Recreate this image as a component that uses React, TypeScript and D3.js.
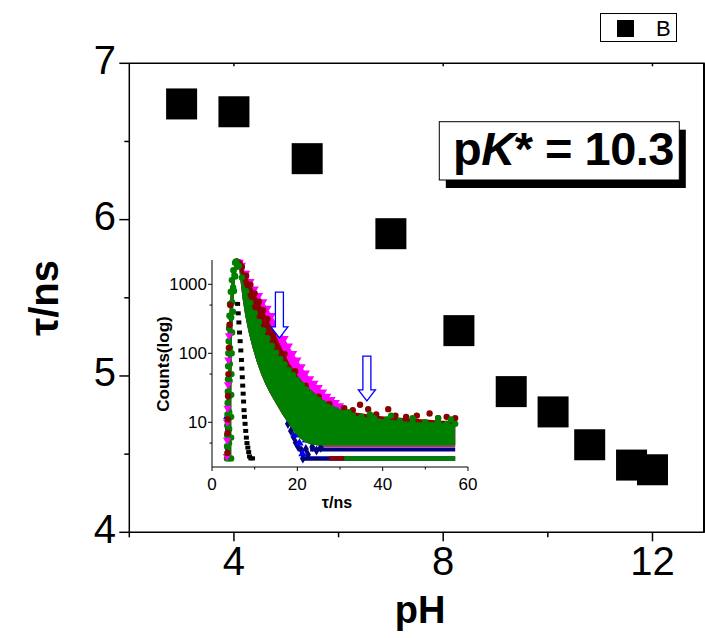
import React from 'react';
import * as d3 from 'd3';

const FONT = '"Liberation Sans", Arial, Helvetica, sans-serif';

// ---------- main plot data ----------
const pHValues = [3.0, 4.0, 5.4, 7.0, 8.3, 9.3, 10.1, 10.8, 11.6, 12.0];
const tauValues = [6.74, 6.69, 6.39, 5.91, 5.29, 4.9, 4.77, 4.56, 4.43, 4.4];
const xMajor = [4, 8, 12];
const xMinor = [2, 6, 10];
const yMajor = [4, 5, 6, 7];
const yMinor = [4.5, 5.5, 6.5];
const legendLabel = 'B';

// ---------- inset data (t in ns, counts) ----------
const insetXMajor = [0, 20, 40, 60];
const insetXMinor = [10, 30, 50];
const insetYMajor = [10, 100, 1000];
const insetYMinor = [5, 50, 500];

const riseLeft: number[][] = [[3.5, 3], [3.52, 4.5], [3.55, 6.5], [3.58, 9], [3.62, 13], [3.66, 19], [3.7, 28], [3.74, 42], [3.78, 65], [3.83, 100], [3.9, 150], [3.98, 230], [4.08, 350], [4.22, 520], [4.4, 780], [4.65, 1150], [5.0, 1600], [5.4, 2050]];
const riseRight: number[][] = [[4.5, 3], [4.5, 6], [4.5, 12], [4.52, 25], [4.56, 50], [4.62, 100], [4.72, 200], [4.9, 400], [5.15, 800], [5.45, 1300], [5.9, 1800]];
const riseMid: number[][] = [[4.0, 3], [4.0, 5], [4.02, 8], [4.05, 14], [4.08, 24], [4.12, 40], [4.18, 70], [4.25, 120], [4.35, 200], [4.5, 330], [4.7, 550], [4.95, 900], [5.25, 1350]];
const magentaTop: number[][] = [[5.9, 2150], [6.5, 2100], [7, 1900], [8, 1450], [9, 1100], [10, 860], [11, 690], [12, 560], [13, 450], [14, 355], [15, 275], [16, 212], [17, 165], [18, 128], [19, 100], [20, 80], [21, 64], [22, 52], [23, 43], [24, 37], [25, 32], [26, 27.5], [27, 24], [28, 21.5], [29, 19.5], [30, 17.5]];
const magentaFloor: number[][] = [[31, 15], [33, 13], [35, 12], [38, 11.5], [41, 11], [44, 10.5], [47, 10], [50, 10], [53, 10], [55, 9.5], [57, 9.5]];
const maroonTop: number[][] = [[5.8, 2150], [6.5, 2000], [7, 1780], [8, 1330], [9, 990], [10, 740], [11, 560], [12, 420], [13, 315], [14, 240], [15, 180], [16, 132], [17, 98], [18, 74], [19, 59], [20, 48], [21, 40], [22, 34], [23, 30], [24, 26.5], [25, 23.5], [26, 21], [27, 19], [28, 17.5], [29, 16.5], [30, 15.5]];
const maroonEdgeMarks: number[][] = [[5.8, 2150], [6.5, 2000], [7, 1780], [8, 1330], [9, 990], [10, 740], [11, 560], [12, 420], [13, 315], [14.5, 200], [17, 98], [19.5, 55], [22, 34], [25, 23.5], [27.5, 18.5]];
const maroonFloor: number[][] = [[31, 15], [33, 14], [35, 13.5], [38, 12.5], [41, 12], [45, 11.5], [50, 11], [54, 10.5], [57, 10.5]];
const greenTop: number[][] = [[5.7, 2150], [6.3, 1850], [7, 1250], [8, 800], [9, 540], [10, 380], [11, 285], [12, 215], [13, 165], [14, 128], [15, 102], [16, 83], [17, 69], [18, 57], [19, 48], [20, 41], [21, 35], [22, 30], [23, 26.5], [24, 23.5], [25, 21], [26, 19], [27, 17], [28, 16], [29, 15], [30, 14]];
const greenFloor: number[][] = [[31, 13.5], [33, 12.5], [35, 12], [38, 11.5], [41, 11], [44, 10.5], [47, 10], [50, 10], [53, 10], [55, 9.5], [57, 9.5]];
const lowerEdge: number[][] = [[6.3, 1900], [6.7, 1100], [7.2, 600], [7.8, 350], [8.6, 200], [9.5, 120], [10.5, 75], [11.5, 50], [12.5, 36], [13.5, 27], [14.5, 21], [15.5, 16.5], [16.5, 13], [17.5, 10.5], [18.5, 8.5], [19.5, 7], [20.5, 6], [21.5, 5.3], [23, 4.8], [25, 4.6], [57, 4.6]];
const navyPoints: number[][] = [[17.8, 9.5], [18.5, 7.5], [19.1, 6.2], [19.6, 5.1], [20.2, 4.4], [21, 3.9], [21.3, 3.0], [22, 4.1], [22.5, 3.4], [23.5, 4.4], [24.5, 3.9], [25.5, 4.3], [3.6, 4.2], [3.7, 8], [3.8, 20]];
const bluePoints: number[][] = [[19.5, 6.5], [20.5, 5], [21.2, 3.5], [22, 5.5], [3.55, 12]];
const olivePoints: number[][] = [[19.8, 7.5], [20.5, 7], [21, 6.2], [22, 5.8]];
const magentaRise: number[][] = [[3.5, 3.2], [3.55, 5.5], [3.6, 10], [3.65, 16], [3.75, 35], [3.85, 80], [4.0, 180]];
const maroonRise: number[][] = [[3.6, 3.6], [3.65, 7], [3.7, 11], [3.75, 24], [3.85, 50], [3.95, 120], [4.1, 260], [4.3, 500]];
const maroonScatter: number[][] = [[31, 16], [33, 15], [34.7, 18], [36.6, 15.5], [38.5, 13], [41.3, 15.5], [43, 12.5], [45.5, 12], [48, 12.5], [51, 13.4], [53, 11.5], [55, 12], [57, 11.5]];
const greenScatter: number[][] = [[32, 14], [37, 13], [42, 12.5], [47, 11.5], [53, 11.5], [56, 11]];
const irf: number[][] = [[6.0, 520], [6.15, 380], [6.3, 280], [6.45, 200], [6.6, 150], [6.75, 110], [6.9, 80], [7.0, 60], [7.1, 45], [7.2, 34], [7.3, 26], [7.4, 20], [7.5, 15], [7.6, 12], [7.75, 9.5], [7.9, 7.5], [8.05, 6], [8.2, 5], [8.4, 4.3], [8.6, 3.7], [8.8, 3.2], [9.1, 3], [9.5, 3]];
// floor rows: [tStart, tEnd, counts]
const navyRow = [21, 57, 3.0];
const maroonRow = [27.5, 31, 3.0];
const greenRow = [31, 57, 3.0];
const navyStrip = [23, 57, 4.05];
const pinkStrip = [25, 57, 4.45];
// arrows: t, top count, tip count
const arrowT = [15.8, 36.3];
const arrowTop = [770, 91];
const arrowTip = [167, 20.4];

export default function App() {
  const x = d3.scaleLinear().domain([2, 13]).range([129.3, 704.8]);
  const y = d3.scaleLinear().domain([4, 7]).range([532.3, 63.3]);
  const ix = d3.scaleLinear().domain([0, 60]).range([212, 468]);
  const iy = d3.scaleLog().domain([2.25, 2250]).range([467, 260]);

  const pt = (d: number[]): [number, number] => [ix(d[0]), iy(d[1])];
  const line = d3.line();
  const band = (upper: number[][], lower: number[][]) =>
    (line([...upper, ...lower.slice().reverse()].map(pt)) || '') + 'Z';

  const triPath = d3.symbol().type(d3.symbolTriangle).size(30)() || '';
  const circPath = d3.symbol().type(d3.symbolCircle).size(32)() || '';
  const diamPath = d3.symbol().type(d3.symbolDiamond).size(30)() || '';
  const sqPath = d3.symbol().type(d3.symbolSquare).size(22)() || '';

  const markers = (pts: number[][], path: string, color: string, key: string, rot = false) =>
    pts.map((d, i) => (
      <path key={key + i} d={path} fill={color}
        transform={`translate(${ix(d[0])},${iy(d[1])})${rot ? ' rotate(180)' : ''}`} />
    ));

  const row = (r: number[], color: string, w: number, key: string) => (
    <line key={key} x1={ix(r[0])} x2={ix(r[1])} y1={iy(r[2])} y2={iy(r[2])} stroke={color} strokeWidth={w} />
  );

  const sqSize = 31;

  return (
    <svg width={705} height={638} style={{ position: 'absolute', left: 0, top: 0, background: '#fff' }}
      fontFamily={FONT}>
      <rect x={0} y={0} width={705} height={638} fill="#fff" />

      {/* main frame */}
      <g stroke="#000" strokeWidth={1.5} fill="none">
        <line x1={x(2)} x2={x(13)} y1={y(4)} y2={y(4)} />
        <line x1={x(2)} x2={x(13)} y1={y(7)} y2={y(7)} />
        <line x1={x(2)} x2={x(2)} y1={y(4)} y2={y(7)} />
        <line x1={x(13) - 0.8} x2={x(13) - 0.8} y1={y(4)} y2={y(7)} strokeWidth={2} />
        {xMajor.map(v => <line key={'xm' + v} x1={x(v)} x2={x(v)} y1={y(4)} y2={y(4) + 9} />)}
        {xMinor.map(v => <line key={'xn' + v} x1={x(v)} x2={x(v)} y1={y(4)} y2={y(4) + 5} />)}
        {xMajor.map(v => <line key={'xt' + v} x1={x(v)} x2={x(v)} y1={y(7)} y2={y(7) + 3} />)}
        {yMajor.map(v => <line key={'ym' + v} x1={x(2) - 10} x2={x(2)} y1={y(v)} y2={y(v)} />)}
        {yMinor.map(v => <line key={'yn' + v} x1={x(2) - 5} x2={x(2)} y1={y(v)} y2={y(v)} />)}
      </g>
      {xMajor.map(v => (
        <text key={'xl' + v} x={x(v)} y={575} textAnchor="middle" fontSize={40}>{v}</text>
      ))}
      {yMajor.map(v => (
        <text key={'yl' + v} x={116} y={y(v) + 10.5} textAnchor="end" fontSize={40}>{v}</text>
      ))}
      <text x={420} y={623} textAnchor="middle" fontSize={38} fontWeight="bold">pH</text>
      <text transform={`translate(58,${(y(4) + y(7)) / 2}) rotate(-90)`} textAnchor="middle" fontSize={40} fontWeight="bold">τ/ns</text>

      {/* inset */}
      <g>
        {row(navyRow, '#000080', 4.5, 'r1')}
        {row(maroonRow, '#8B0000', 4.5, 'r2')}
        {row(greenRow, '#008000', 4.5, 'r3')}
        {row(navyStrip, '#000080', 4, 'r4')}
        {row(pinkStrip, '#B0306A', 1.5, 'r5')}
        <path d={band([...riseLeft, ...magentaTop, ...magentaFloor], [...riseRight, ...lowerEdge])} fill="#FF00FF" />
        {markers(magentaTop, triPath, '#FF00FF', 'mt', true)}
        <path d={band([...riseLeft, ...maroonTop, ...maroonFloor], [...riseRight, ...lowerEdge])} fill="#8B0000" />
        {markers(maroonEdgeMarks, circPath, '#8B0000', 'rt')}
        {markers(maroonScatter, circPath, '#8B0000', 'rs')}
        {markers(navyPoints, diamPath, '#000080', 'np')}
        {markers(bluePoints, triPath, '#0000FF', 'bp')}
        {markers(olivePoints, sqPath, '#808000', 'op')}
        <path d={band([...riseLeft, ...greenTop, ...greenFloor], [...riseRight, ...lowerEdge])} fill="#008000" />
        {markers(greenTop, circPath, '#008000', 'gt')}
        {markers(greenFloor, circPath, '#008000', 'gf')}
        {markers(greenScatter, circPath, '#008000', 'gs')}
        {markers(riseLeft, circPath, '#008000', 'rl')}
        {markers(riseRight, circPath, '#008000', 'rr')}
        {markers(riseMid, circPath, '#008000', 'rm')}
        {markers(magentaRise, triPath, '#FF00FF', 'mr', true)}
        {markers(maroonRise, circPath, '#8B0000', 'mrr')}
        {irf.map((d, i) => (
          <rect key={'irf' + i} x={ix(d[0]) - 2.5} y={iy(d[1]) - 2} width={5} height={4} fill="#000" />
        ))}
        {arrowT.map((t, i) => {
          const cx = ix(t);
          const yTop = iy(arrowTop[i]);
          const yTip = iy(arrowTip[i]);
          const yNeck = yTip - 11;
          const p = `M${cx - 4},${yTop} L${cx + 4},${yTop} L${cx + 4},${yNeck} L${cx + 8.5},${yNeck} L${cx},${yTip} L${cx - 8.5},${yNeck} L${cx - 4},${yNeck} Z`;
          return <path key={'ar' + i} d={p} fill="#fff" stroke="#0000FF" strokeWidth={1.3} />;
        })}
        <g stroke="#000" strokeWidth={1} fill="none">
          <line x1={ix(0)} x2={ix(60)} y1={iy(2.25)} y2={iy(2.25)} />
          <line x1={ix(0)} x2={ix(0)} y1={iy(2.25)} y2={iy(2250)} />
          {insetXMajor.map(v => <line key={'ixm' + v} x1={ix(v)} x2={ix(v)} y1={iy(2.25)} y2={iy(2.25) + 4} />)}
          {insetXMinor.map(v => <line key={'ixn' + v} x1={ix(v)} x2={ix(v)} y1={iy(2.25)} y2={iy(2.25) + 2.5} />)}
          {insetYMajor.map(v => <line key={'iym' + v} x1={ix(0) - 4} x2={ix(0)} y1={iy(v)} y2={iy(v)} />)}
          {insetYMinor.map(v => <line key={'iyn' + v} x1={ix(0) - 2.5} x2={ix(0)} y1={iy(v)} y2={iy(v)} />)}
        </g>
        {insetXMajor.map(v => (
          <text key={'ixl' + v} x={ix(v)} y={490} textAnchor="middle" fontSize={17}>{v}</text>
        ))}
        {insetYMajor.map(v => (
          <text key={'iyl' + v} x={207} y={iy(v) + 6} textAnchor="end" fontSize={17}>{v}</text>
        ))}
        <text x={337} y={508} textAnchor="middle" fontSize={16} fontWeight="bold">τ/ns</text>
        <text transform={`translate(169,364) rotate(-90)`} textAnchor="middle" fontSize={17} fontWeight="bold">Counts(log)</text>
      </g>

      {/* main squares */}
      {pHValues.map((p, i) => (
        <rect key={'sq' + i} x={x(p) - sqSize / 2} y={y(tauValues[i]) - sqSize / 2} width={sqSize} height={sqSize} fill="#000" />
      ))}

      {/* pK annotation */}
      <rect x={445.8} y={129.7} width={240} height={58.3} fill="#000" />
      <rect x={439.3} y={121.7} width={240} height={58.3} fill="#fff" stroke="#000" strokeWidth={1} />
      <text x={453} y={165} fontSize={47} fontWeight="bold" letterSpacing={-0.5}>
        p<tspan fontStyle="italic">K</tspan>* = 10.3
      </text>

      {/* legend */}
      <rect x={600.5} y={13.5} width={76} height={28} fill="#fff" stroke="#000" strokeWidth={1} />
      <rect x={617} y={20} width={17} height={17} fill="#000" />
      <text x={656} y={36} fontSize={22}>{legendLabel}</text>
    </svg>
  );
}
